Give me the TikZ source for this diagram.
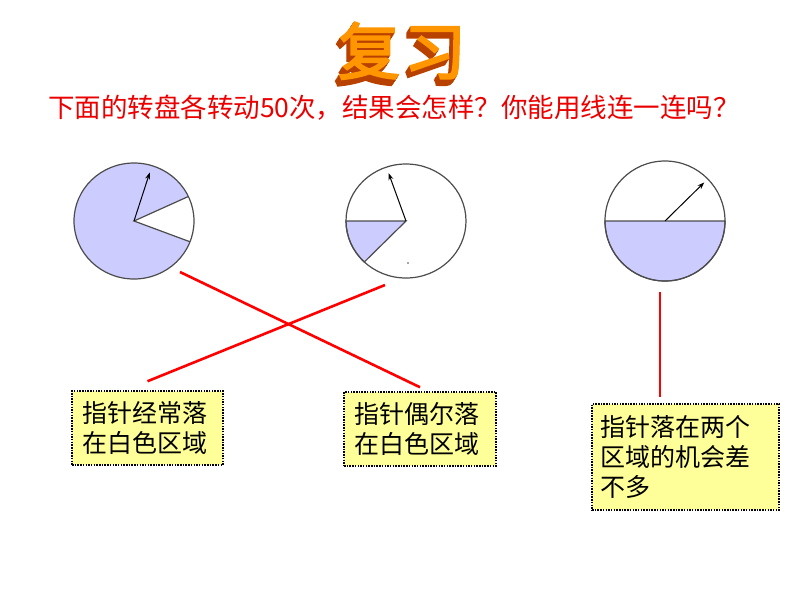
\documentclass[tikz,border=0pt]{standalone}
\usepackage{fontspec}
\newfontfamily\cjk{Noto Sans CJK SC}
\newfontfamily\cjkfat[FakeBold=3]{Noto Sans CJK SC}
\usetikzlibrary{arrows.meta}
\definecolor{pieblue}{RGB}{204,204,255}
\definecolor{notey}{RGB}{255,255,153}
\definecolor{askred}{RGB}{235,0,0}
\definecolor{rimorange}{RGB}{185,65,0}
\definecolor{topgold}{RGB}{255,150,0}

\begin{document}
\begin{tikzpicture}[x=1pt,y=-1pt,
    rim/.style={draw=black!70,line width=1.2pt},
    hand/.style={-{Stealth[length=7pt,width=5pt]},line width=1pt},
    link/.style={red,line width=2.6pt},
    note/.style={draw,fill=notey,line width=1.5pt,dash pattern=on 1.5pt off 1.2pt,
      align=left,inner ysep=4pt,font=\cjk\fontsize{25}{30}\selectfont}]
  \useasboundingbox (0,0) rectangle (800,600);

  % the title, stacked copies for depth inside one node
  \node[font=\cjkfat\fontsize{62}{62}\selectfont,inner sep=0pt] (title) at (402,54)
    {\foreach \i [evaluate=\i as \dx using -0.5*\i, evaluate=\i as \dy using -0.8*\i] in {8,7,...,1}{\makebox[0pt][l]{\hspace{\dx pt}\raisebox{\dy pt}{\color{rimorange}复\hspace{4pt}习}}}%
     \textcolor{topgold}{复\hspace{4pt}习}};

  \node[askred,font=\cjk\fontsize{26.5}{30}\selectfont] (ask) at (394,108) {下面的转盘各转动50次，结果会怎样？你能用线连一连吗？};

  %% spinner one: mostly blue
  \coordinate (pie1) at (134,221);
  \fill[pieblue] (pie1) ellipse[x radius=60,y radius=58];
  \fill[white] (pie1) -- +(-25:60 and 58) arc[start angle=-25,end angle=21,x radius=60,y radius=58] -- cycle;
  \draw[rim] (pie1) +(-25:60 and 58) -- (pie1) -- +(21:60 and 58);
  \draw[rim] (pie1) ellipse[x radius=60,y radius=58];
  \draw[hand] (pie1) -- +(-72:51);

  %% spinner two: a small blue slice
  \coordinate (pie2) at (406,221);
  \filldraw[rim,fill=pieblue] (pie2) -- +(134:60 and 57) arc[start angle=134,end angle=180,x radius=60,y radius=57] -- cycle;
  \draw[rim] (pie2) ellipse[x radius=60,y radius=57];
  \draw[hand] (pie2) -- +(-110:51);
  \fill[black!70] (408,263) circle[radius=0.8];

  %% spinner three: half and half
  \coordinate (pie3) at (665,221);
  \filldraw[rim,fill=pieblue] (pie3) +(0:60) arc[start angle=0,end angle=180,radius=60] -- cycle;
  \draw[rim] (pie3) circle[radius=60];
  \draw[hand] (pie3) -- +(-44.5:55);

  % the notes
  \node[note,text width=131pt,inner xsep=10pt,minimum height=74pt] (box1) at (147.5,428) {指针经常落\\在白色区域};
  \node[note,text width=132pt,inner xsep=10pt,minimum height=74pt] (box2) at (420,429) {指针偶尔落\\在白色区域};
  \node[note,text width=171pt,inner xsep=8pt,minimum height=106pt] (box3) at (685.5,457) {指针落在两个\\区域的机会差\\不多};

  % red links
  \coordinate (a1) at (180,272);
  \coordinate (b1) at (385,285);
  \coordinate (c1) at (660,292);
  \coordinate (c2) at (660,397);
  \draw[link] (a1) -- ([yshift=4pt]box2.north);
  \draw[link] (b1) -- ([yshift=9pt]box1.north);
  \draw[link] (c1) -- (c2);
\end{tikzpicture}
\end{document}
